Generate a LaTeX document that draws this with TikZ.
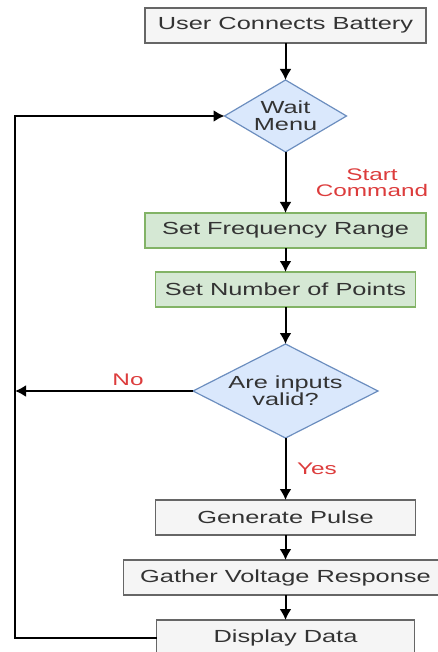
\documentclass[tikz,border=0pt]{standalone}
\usepackage{fontspec}
\newfontfamily\flowfont[FakeStretch=1.45]{Liberation Sans}
\usetikzlibrary{arrows.meta,positioning,shapes.geometric}
\definecolor{procfill}{HTML}{F5F5F5}
\definecolor{procdraw}{HTML}{666666}
\definecolor{setfill}{HTML}{D5E8D4}
\definecolor{setdraw}{HTML}{82B366}
\definecolor{decfill}{HTML}{DAE8FC}
\definecolor{decdraw}{HTML}{6C8EBF}
\definecolor{textgray}{HTML}{333333}
\definecolor{lblred}{HTML}{DC3C3C}

\begin{document}
\begin{tikzpicture}[x=1pt,y=1pt,->,>={Latex[length=11pt,width=12pt]},line width=2pt,
  every node/.style={font=\flowfont\fontsize{17.5}{17}\selectfont,text=textgray},
  proc/.style={rectangle,draw=procdraw,fill=procfill,line width=1.2pt,outer sep=0pt,minimum height=35pt},
  setup/.style={rectangle,draw=setdraw,fill=setfill,line width=1.2pt,outer sep=0pt,minimum height=35pt},
  decision/.style={diamond,draw=decdraw,fill=decfill,line width=1.2pt,outer sep=0pt,align=center,inner sep=0pt},
  lbl/.style={text=lblred,align=center,font=\flowfont\fontsize{16.8}{16}\selectfont}]
  \useasboundingbox (0,0) rectangle (438,-652);
  \node[proc,minimum width=281pt] (battery) at (285.5,-25.5) {User Connects Battery};
  \node[decision,aspect=1.67,minimum width=122pt,minimum height=72pt] (wait) [below=37pt of battery] {Wait\\Menu};
  \node[setup,minimum width=281pt] (freq) [below=61pt of wait] {Set Frequency Range};
  \node[setup,minimum width=260pt] (points) [below=24pt of freq] {Set Number of Points};
  \node[decision,aspect=1.97,minimum width=185pt,minimum height=94pt] (valid) [below=37pt of points] {Are inputs\\valid?};
  \node[proc,minimum width=260pt] (pulse) [below=62pt of valid] {Generate Pulse};
  \node[proc,minimum width=324pt] (gather) [below=25pt of pulse] {Gather Voltage Response};
  \node[proc,minimum width=258pt] (display) [below=25pt of gather] {Display Data};
  \coordinate (loop) at (15,-116);
  \coordinate (noend) at (valid.west -| loop);
  \node[lbl] (startlbl) at (372,-183) {Start\\Command};
  \node[lbl] (nolbl) at (128,-380) {No};
  \node[lbl] (yeslbl) at (317,-469) {Yes};
  \draw (battery) -- (wait);
  \draw (wait) -- (freq);
  \draw (freq) -- (points);
  \draw (points) -- (valid);
  \draw (valid) -- (pulse);
  \draw (valid.west) -- (noend);
  \draw (pulse) -- (gather);
  \draw (gather) -- (display);
  \draw (display.west) -| (loop) -- (wait.west);
\end{tikzpicture}
\end{document}
